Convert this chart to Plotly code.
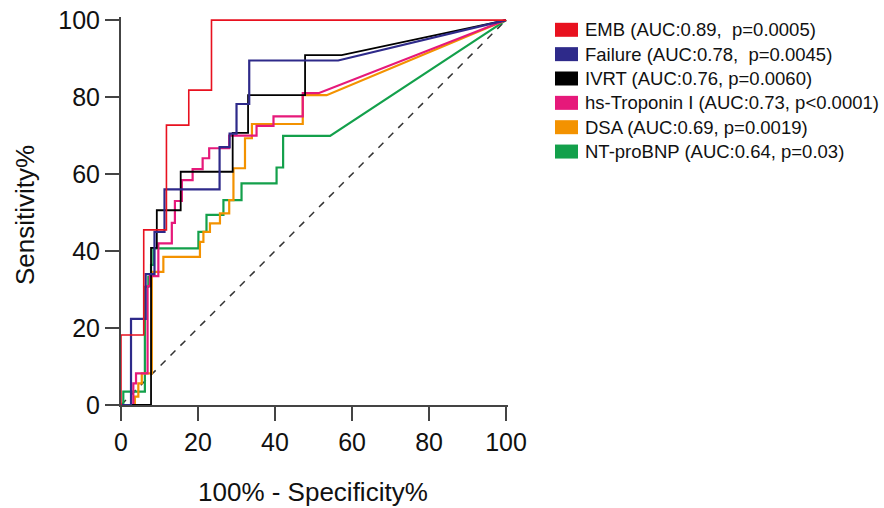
import plotly.graph_objects as go

# ---------------- data ----------------
series_names = ["EMB", "Failure", "IVRT", "hs-Troponin I", "DSA", "NT-proBNP"]
series_labels = [
    "EMB (AUC:0.89,  p=0.0005)",
    "Failure (AUC:0.78,  p=0.0045)",
    "IVRT (AUC:0.76, p=0.0060)",
    "hs-Troponin I (AUC:0.73, p<0.0001)",
    "DSA (AUC:0.69, p=0.0019)",
    "NT-proBNP (AUC:0.64, p=0.03)",
]
series_colors = ["#e8111f", "#2e2a8a", "#000000", "#e6197a", "#f39200", "#13a04b"]

emb_x = [0, 0, 5.9, 5.9, 11.8, 11.8, 17.6, 17.6, 23.5, 23.5, 100]
emb_y = [0, 18.2, 18.2, 45.5, 45.5, 72.7, 72.7, 81.8, 81.8, 100, 100]

failure_x = [0, 2.6, 2.6, 6.4, 6.4, 8.7, 8.7, 11.3, 11.3, 25.6, 25.6, 28.2, 28.2, 30.0, 30.0, 33.3, 33.3, 56.4, 100]
failure_y = [0, 0, 22.4, 22.4, 34.0, 34.0, 45.0, 45.0, 56.0, 56.0, 67.0, 67.0, 70.5, 70.5, 78.2, 78.2, 89.5, 89.5, 100]

ivrt_x = [0, 7.8, 7.8, 9.3, 9.3, 15.5, 15.5, 29.0, 29.0, 33.0, 33.0, 47.8, 47.8, 57.3, 100]
ivrt_y = [0, 0, 40.8, 40.8, 50.6, 50.6, 60.6, 60.6, 70.7, 70.7, 80.5, 80.5, 90.9, 90.9, 100]

trop_x = [0, 3.2, 3.2, 3.9, 3.9, 6.9, 6.9, 7.5, 7.5, 9.7, 9.7, 13.2, 13.2, 14.0, 14.0, 15.8, 15.8,
          18.6, 18.6, 21.2, 21.2, 22.9, 22.9, 28.1, 28.1, 35.2, 35.2, 39.6, 39.6, 47.2, 47.2, 51.3, 100]
trop_y = [0, 0, 5.6, 5.6, 8.2, 8.2, 30.9, 30.9, 33.5, 33.5, 42.0, 42.0, 47.3, 47.3, 53.0, 53.0, 58.4,
          58.4, 61.3, 61.3, 64.1, 64.1, 66.7, 66.7, 70.0, 70.0, 72.5, 72.5, 75.0, 75.0, 81.0, 81.0, 100]

dsa_x = [0, 3.6, 3.6, 4.5, 4.5, 5.4, 5.4, 8.0, 8.0, 11.0, 11.0, 20.5, 20.5, 21.4, 21.4, 23.1, 23.1,
         25.7, 25.7, 28.1, 28.1, 29.2, 29.2, 32.2, 32.2, 34.0, 34.0, 47.2, 47.2, 53.4, 100]
dsa_y = [0, 0, 2.2, 2.2, 5.6, 5.6, 8.2, 8.2, 34.6, 34.6, 38.5, 38.5, 42.4, 42.4, 45.0, 45.0, 47.2,
         47.2, 49.8, 49.8, 53.2, 53.2, 61.5, 61.5, 69.3, 69.3, 73.0, 73.0, 80.5, 80.5, 100]

bnp_x = [0, 0.6, 0.6, 6.2, 6.2, 7.1, 7.1, 7.8, 7.8, 8.4, 8.4, 20.1, 20.1, 22.2, 22.2, 26.6, 26.6,
         31.3, 31.3, 40.4, 40.4, 42.1, 42.1, 54.3, 100]
bnp_y = [0, 0, 3.5, 3.5, 30.7, 30.7, 33.3, 33.3, 36.4, 36.4, 40.7, 40.7, 45.0, 45.0, 49.4, 49.4, 53.2,
         53.2, 57.6, 57.6, 61.7, 61.7, 69.9, 69.9, 100]

ref_x = [0, 100]
ref_y = [0, 100]

x_ticks = [0, 20, 40, 60, 80, 100]
y_ticks = [0, 20, 40, 60, 80, 100]
x_title = "100% - Specificity%"
y_title = "Sensitivity%"

series_x = [emb_x, failure_x, ivrt_x, trop_x, dsa_x, bnp_x]
series_y = [emb_y, failure_y, ivrt_y, trop_y, dsa_y, bnp_y]
series_width = [1.6, 2.2, 1.8, 2.2, 2.2, 2.2]

# ---------------- figure ----------------
W, H = 884, 508
ML, MR, MT, MB = 121, 376, 17, 103
PW = W - ML - MR
PH = H - MT - MB
FONT = "Liberation Sans, Arial, sans-serif"
AXC = "#444444"


def px_x(px):
    return (px - ML) / PW


def px_y(py):
    return (H - MB - py) / PH


fig = go.Figure()

fig.add_trace(go.Scatter(x=ref_x, y=ref_y, mode="lines",
                         line=dict(color="#333333", width=1.5, dash="7px,7px"),
                         hoverinfo="skip", showlegend=False))

draw_order = [5, 4, 3, 2, 1, 0]
for i in draw_order:
    fig.add_trace(go.Scatter(x=series_x[i], y=series_y[i], mode="lines",
                             line=dict(color=series_colors[i], width=series_width[i], shape="linear"),
                             name=series_names[i], showlegend=False))

axis_common = dict(
    showline=True, linecolor=AXC, linewidth=2,
    ticks="outside", ticklen=14, tickwidth=2, tickcolor=AXC,
    showgrid=False, zeroline=False, automargin=False,
    tickfont=dict(family=FONT, size=25, color="#111111"),
)

fig.update_xaxes(range=[0, 100.5], tickvals=x_ticks, ticktext=[str(v) for v in x_ticks], **axis_common)
fig.update_yaxes(range=[0, 100.8], tickvals=y_ticks, ticktext=[str(v) for v in y_ticks], **axis_common)

annotations = [
    dict(text=x_title, xref="paper", yref="paper", x=px_x(313), y=px_y(492),
         xanchor="center", yanchor="middle", showarrow=False,
         font=dict(family=FONT, size=26, color="#111111")),
    dict(text=y_title, xref="paper", yref="paper", x=px_x(25), y=px_y(215),
         xanchor="center", yanchor="middle", showarrow=False, textangle=-90,
         font=dict(family=FONT, size=26, color="#111111")),
]
shapes = []
row0, row_gap = 29.8, 24.35
for k, lab in enumerate(series_labels):
    cy = row0 + k * row_gap
    shapes.append(dict(type="rect", xref="paper", yref="paper",
                       x0=px_x(555), x1=px_x(578), y0=px_y(cy - 7), y1=px_y(cy + 7),
                       fillcolor=series_colors[k], line=dict(width=0)))
    annotations.append(dict(text=lab, xref="paper", yref="paper", x=px_x(583), y=px_y(cy),
                            xanchor="left", yanchor="middle", showarrow=False,
                            font=dict(family=FONT, size=18.5, color="#111111")))

fig.update_layout(
    width=W, height=H,
    margin=dict(l=ML, r=MR, t=MT, b=MB, pad=0, autoexpand=False),
    paper_bgcolor="white", plot_bgcolor="white",
    showlegend=False, hovermode=False,
    annotations=annotations, shapes=shapes,
)

fig.write_html("out.html", config={"displayModeBar": False},
               post_script="document.body.style.margin='0';document.body.style.padding='0';")
